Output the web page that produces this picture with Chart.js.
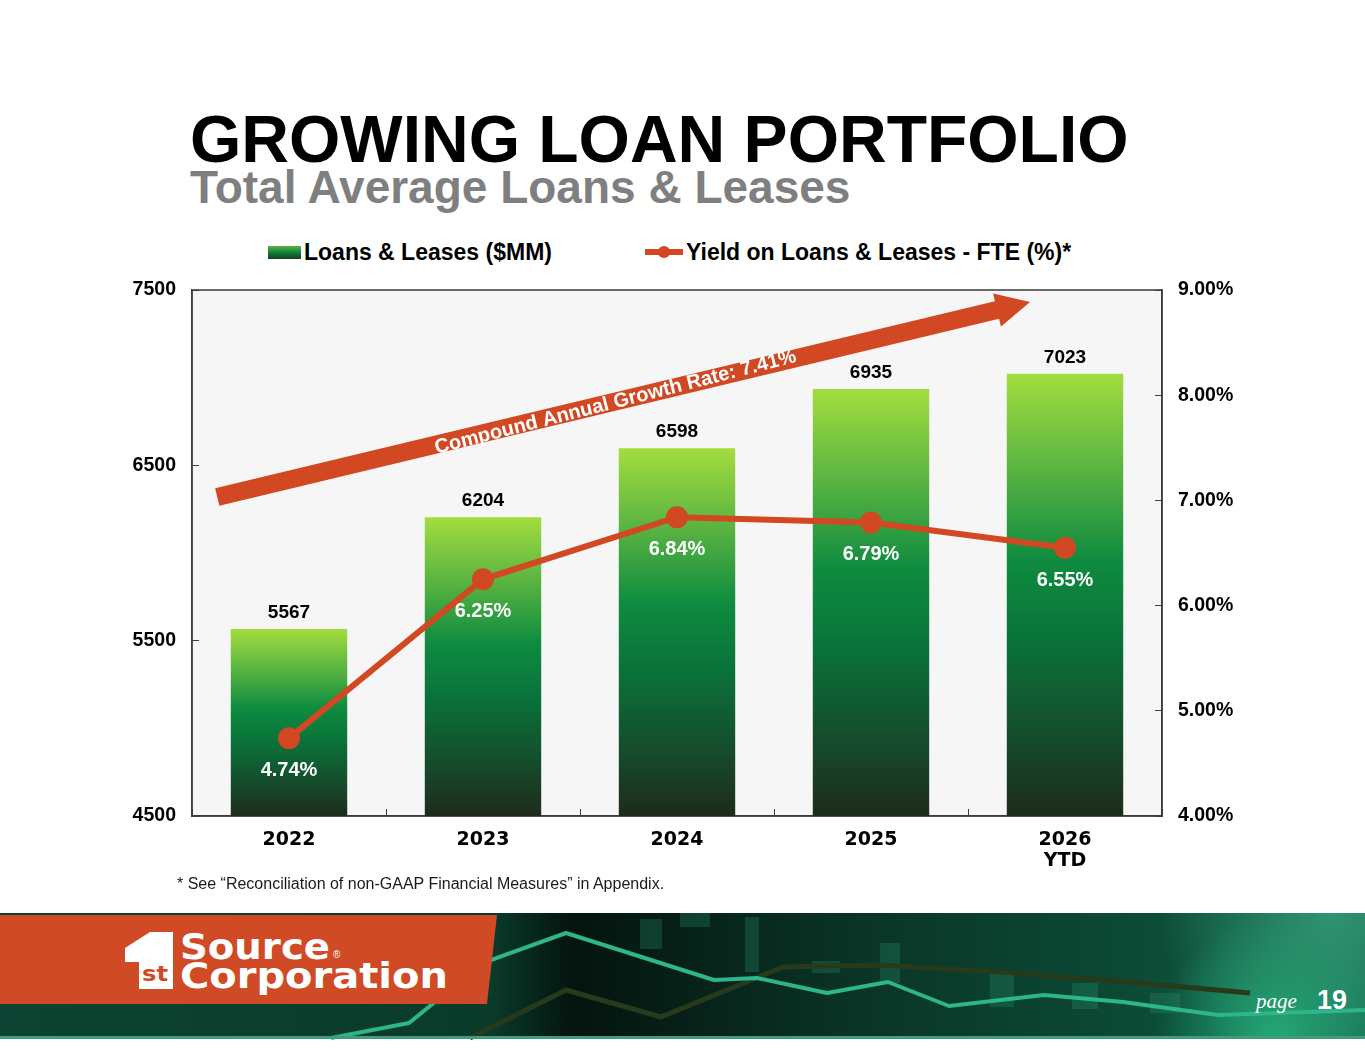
<!DOCTYPE html>
<html lang="en">
<head>
    <meta charset="UTF-8">
    <title>Growing Loan Portfolio</title>
    <script src="https://cdn.jsdelivr.net/npm/chart.js"></script>
    <style>
        body { margin: 0; background: #fff; }
        #slide { position: relative; width: 1365px; height: 1055px; overflow: hidden; background: #fff;
                 font-family: "Liberation Sans", Arial, sans-serif; }
        .title { position: absolute; left: 190px; top: 106px; font-size: 66px; line-height: 66px;
                 font-weight: bold; color: #000; white-space: nowrap; }
        .subtitle { position: absolute; left: 190px; top: 164px; font-size: 46px; line-height: 46px;
                    font-weight: bold; color: #7f7f7f; white-space: nowrap; }
        #legend .txt { position: absolute; top: 238px; height: 28px; line-height: 28px; font-size: 23px;
                       font-weight: bold; color: #000; white-space: nowrap; }
        #chartBox { position: absolute; left: 0; top: 265px; width: 1365px; height: 625px; }
        .note { position: absolute; left: 177px; top: 876px; font-size: 16px; line-height: 16px; color: #1a1a1a;
                white-space: nowrap; }
        #footer { position: absolute; left: 0; top: 913px; }
    </style>
</head>
<body>
<div id="slide">
    <div class="title">GROWING LOAN PORTFOLIO</div>
    <div class="subtitle">Total Average Loans &amp; Leases</div>
    <div id="legend"></div>
    <div id="chartBox"><canvas id="loanChart"></canvas></div>
    <div class="note">* See “Reconciliation of non-GAAP Financial Measures” in Appendix.</div>

    <svg id="footer" width="1365" height="127" viewBox="0 0 1365 127">
        <defs>
            <linearGradient id="fbg" x1="0" x2="1" y1="0" y2="0">
                <stop offset="0" stop-color="#0d4332"/>
                <stop offset="0.36" stop-color="#0a3a2a"/>
                <stop offset="0.42" stop-color="#04140e"/>
                <stop offset="0.62" stop-color="#0a3326"/>
                <stop offset="0.85" stop-color="#0c4d38"/>
                <stop offset="1" stop-color="#10624a"/>
            </linearGradient>
            <radialGradient id="glowLow" cx="1275" cy="125" r="120" gradientUnits="userSpaceOnUse">
                <stop offset="0" stop-color="#25b07a" stop-opacity="0.9"/>
                <stop offset="1" stop-color="#25b07a" stop-opacity="0"/>
            </radialGradient>
            <radialGradient id="glowHigh" cx="1330" cy="0" r="170" gradientUnits="userSpaceOnUse">
                <stop offset="0" stop-color="#3aa27c" stop-opacity="0.8"/>
                <stop offset="1" stop-color="#3aa27c" stop-opacity="0"/>
            </radialGradient>
        </defs>
        <rect x="0" y="0" width="1365" height="125" fill="url(#fbg)"/>
        <rect x="900" y="0" width="465" height="125" fill="url(#glowHigh)"/>
        <rect x="1100" y="0" width="265" height="125" fill="url(#glowLow)"/>
        <g fill="#2a8d6a" opacity="0.3">
            <rect x="640" y="6" width="22" height="30"/>
            <rect x="680" y="0" width="30" height="14"/>
            <rect x="745" y="4" width="14" height="55"/>
            <rect x="812" y="48" width="28" height="12"/>
            <rect x="880" y="30" width="20" height="40"/>
            <rect x="990" y="60" width="24" height="34"/>
            <rect x="1072" y="70" width="26" height="26"/>
            <rect x="1150" y="80" width="30" height="20"/>
        </g>
        <polyline points="470,125 566,77 661,104 783,54 879,52 1001,59 1140,70 1250,80"
                  fill="none" stroke="#283a1c" stroke-width="5" stroke-linejoin="round"/>
        <polyline points="331,125 409,110 483,50 566,20 714,67 757,65 827,80 888,69 949,93 1044,82 1123,89 1218,102 1365,97"
                  fill="none" stroke="#2db58b" stroke-width="4" stroke-linejoin="round"/>
        <rect x="0" y="123" width="1365" height="3" fill="#3f9c7c"/>
        <polygon points="0,2 497,2 487,91 0,91" fill="#d04a25"/>
        <polygon points="125,35 150,19 173,19 173,76 139,76 139,49 125,49" fill="#fff"/>
        <text x="142" y="68" font-family="DejaVu Sans" font-weight="bold" font-size="21" fill="#d04a25"
              textLength="26" lengthAdjust="spacingAndGlyphs">st</text>
        <text x="180" y="46" font-family="DejaVu Sans" font-weight="bold" font-size="36" fill="#fff"
              textLength="150" lengthAdjust="spacingAndGlyphs">Source</text>
        <text x="333" y="45" font-family="Liberation Sans" font-size="10" fill="#fff">®</text>
        <text x="180" y="75" font-family="DejaVu Sans" font-weight="bold" font-size="36" fill="#fff"
              textLength="268" lengthAdjust="spacingAndGlyphs">Corporation</text>
        <text x="1256" y="95" font-family="Liberation Serif" font-style="italic" font-size="21" fill="#fff">page</text>
        <text x="1317" y="96" font-family="Liberation Sans" font-weight="bold" font-size="27" fill="#fff">19</text>
    </svg>
</div>

<script>
    // chart values
    var years = ["2022", "2023", "2024", "2025", ["2026", "YTD"]];
    var loans = [5567, 6204, 6598, 6935, 7023];
    var yields = [4.74, 6.25, 6.84, 6.79, 6.55];
    var loanAxis = [4500, 7500, 1000];
    var yieldAxis = [4, 9, 1];
    var cagrText = "Compound Annual Growth Rate: 7.41%";
    // arrow ends in data units: [category index, loans value]
    var cagrFrom = [-0.37, 6320];
    var cagrTo = [3.82, 7431];

    var orange = "#d14822";
    var sans = "'Liberation Sans', Arial, sans-serif";

    Chart.defaults.font.family = sans;

    function barFill(c) {
        var chart = c.chart;
        var area = chart.chartArea;
        if (!area || c.type !== "data") return "#0b8a3e";
        var top = chart.scales.y.getPixelForValue(c.raw);
        var g = chart.ctx.createLinearGradient(0, top, 0, area.bottom);
        g.addColorStop(0, "#a3dd3e");
        g.addColorStop(0.22, "#58b341");
        g.addColorStop(0.42, "#0f8c3f");
        g.addColorStop(0.6, "#09733a");
        g.addColorStop(0.85, "#17472a");
        g.addColorStop(1, "#1d2b1b");
        return g;
    }

    var plotFrame = {
        id: "plotFrame",
        beforeDraw: function(chart) {
            var a = chart.chartArea, ctx = chart.ctx;
            ctx.save();
            ctx.fillStyle = "#f6f6f6";
            ctx.fillRect(a.left, a.top, a.width, a.height);
            ctx.restore();
        },
        beforeDatasetsDraw: function(chart) {
            var a = chart.chartArea, ctx = chart.ctx;
            ctx.save();
            ctx.strokeStyle = "#3c3c3c";
            ctx.lineWidth = 1.5;
            ctx.strokeRect(a.left, a.top, a.width, a.height);
            ctx.restore();
        }
    };

    var cagrArrow = {
        id: "cagrArrow",
        afterDatasetsDraw: function(chart) {
            var ctx = chart.ctx, xs = chart.scales.x, ys = chart.scales.y;
            var x0 = xs.getPixelForValue(cagrFrom[0]), y0 = ys.getPixelForValue(cagrFrom[1]);
            var x1 = xs.getPixelForValue(cagrTo[0]), y1 = ys.getPixelForValue(cagrTo[1]);
            var dx = x1 - x0, dy = y1 - y0, len = Math.sqrt(dx * dx + dy * dy);
            var ux = dx / len, uy = dy / len, nx = -uy, ny = ux;
            var w = 9, hw = 17, hl = 34;
            var bx = x1 - ux * hl, by = y1 - uy * hl;
            ctx.save();
            ctx.fillStyle = orange;
            ctx.beginPath();
            ctx.moveTo(x0 + nx * w, y0 + ny * w);
            ctx.lineTo(bx + nx * w, by + ny * w);
            ctx.lineTo(bx + nx * hw, by + ny * hw);
            ctx.lineTo(x1, y1);
            ctx.lineTo(bx - nx * hw, by - ny * hw);
            ctx.lineTo(bx - nx * w, by - ny * w);
            ctx.lineTo(x0 - nx * w, y0 - ny * w);
            ctx.closePath();
            ctx.fill();

            var t = 0.49;
            ctx.translate(x0 + dx * t, y0 + dy * t + 1);
            ctx.rotate(Math.atan2(dy, dx) - 0.015);
            ctx.fillStyle = "#fff";
            ctx.font = "bold 20px " + sans;
            ctx.textAlign = "center";
            ctx.textBaseline = "middle";
            ctx.fillText(cagrText, 0, 0);
            ctx.restore();
        }
    };

    var valueLabels = {
        id: "valueLabels",
        afterDatasetsDraw: function(chart) {
            var ctx = chart.ctx;
            ctx.save();
            ctx.textAlign = "center";
            ctx.textBaseline = "alphabetic";
            chart.getDatasetMeta(0).data.forEach(function(el, i) {
                ctx.fillStyle = "#000";
                ctx.font = "bold 19px " + sans;
                ctx.fillText(String(loans[i]), el.x, el.y - 11);
            });
            chart.getDatasetMeta(1).data.forEach(function(el, i) {
                ctx.fillStyle = "#fff";
                ctx.font = "bold 20px " + sans;
                ctx.fillText(yields[i].toFixed(2) + "%", el.x, el.y + 38);
            });
            ctx.restore();
        }
    };

    var tickFont = { family: sans, weight: "bold", size: 19.5 };

    // fixed axis boxes so the plot area lands where the slide has it
    function sideAxis(width) {
        return function(s) {
            s.width = width;
            s.paddingTop = 0;
            s.paddingBottom = 0;
        };
    }

    var chart = new Chart(document.getElementById("loanChart"), {
        type: "bar",
        data: {
            labels: years,
            datasets: [
                {
                    label: "Loans & Leases ($MM)",
                    data: loans,
                    yAxisID: "y",
                    backgroundColor: barFill,
                    barPercentage: 0.6,
                    categoryPercentage: 1,
                    order: 1
                },
                {
                    type: "line",
                    label: "Yield on Loans & Leases - FTE (%)*",
                    data: yields,
                    yAxisID: "y1",
                    borderColor: orange,
                    backgroundColor: orange,
                    borderWidth: 6,
                    pointRadius: 11,
                    pointHoverRadius: 11,
                    pointBackgroundColor: orange,
                    pointBorderWidth: 0,
                    tension: 0,
                    order: 0
                }
            ]
        },
        options: {
            responsive: true,
            maintainAspectRatio: false,
            animation: false,
            events: [],
            layout: { autoPadding: false, padding: { top: 25, left: 0, right: 0, bottom: 0 } },
            plugins: { legend: { display: false }, tooltip: { enabled: false } },
            scales: {
                x: {
                    offset: true,
                    grid: { offset: true, drawOnChartArea: false, tickLength: -7, color: "#404040" },
                    border: { display: true, color: "#3c3c3c", width: 1.5 },
                    ticks: {
                        color: "#000",
                        font: { family: "'DejaVu Sans', sans-serif", weight: "bold", size: 19, lineHeight: 1.1 },
                        padding: 21,
                        maxRotation: 0,
                        autoSkip: false
                    },
                    afterFit: function(s) { s.height = 74; s.paddingLeft = 0; s.paddingRight = 0; }
                },
                y: {
                    position: "left",
                    min: loanAxis[0],
                    max: loanAxis[1],
                    grid: { drawOnChartArea: false, tickLength: -7, color: "#404040" },
                    border: { display: true, color: "#3c3c3c", width: 1.5 },
                    ticks: {
                        stepSize: loanAxis[2],
                        color: "#000",
                        font: tickFont,
                        padding: 23,
                        callback: function(v) { return String(v); }
                    },
                    afterFit: sideAxis(192)
                },
                y1: {
                    position: "right",
                    min: yieldAxis[0],
                    max: yieldAxis[1],
                    grid: { drawOnChartArea: false, tickLength: -7, color: "#404040" },
                    border: { display: true, color: "#3c3c3c", width: 1.5 },
                    ticks: {
                        stepSize: yieldAxis[2],
                        color: "#000",
                        font: tickFont,
                        padding: 23,
                        callback: function(v) { return v.toFixed(2) + "%"; }
                    },
                    afterFit: sideAxis(203)
                }
            }
        },
        plugins: [plotFrame, cagrArrow, valueLabels]
    });

    // legend built from the dataset labels
    var legend = document.getElementById("legend");
    var ds = chart.data.datasets;
    legend.innerHTML =
        '<div style="position:absolute;left:268px;top:246px;width:33px;height:13px;' +
        'background:linear-gradient(#5db542,#0b7a3a 55%,#1d3a22)"></div>' +
        '<div class="txt" style="left:304px">' + ds[0].label.replace(/&/g, "&amp;") + '</div>' +
        '<div style="position:absolute;left:645px;top:249px;width:38px;height:6px;background:' + orange + '"></div>' +
        '<div style="position:absolute;left:658px;top:246px;width:12px;height:12px;border-radius:6px;background:' + orange + '"></div>' +
        '<div class="txt" style="left:686px">' + ds[1].label.replace(/&/g, "&amp;") + '</div>';
</script>
</body>
</html>
